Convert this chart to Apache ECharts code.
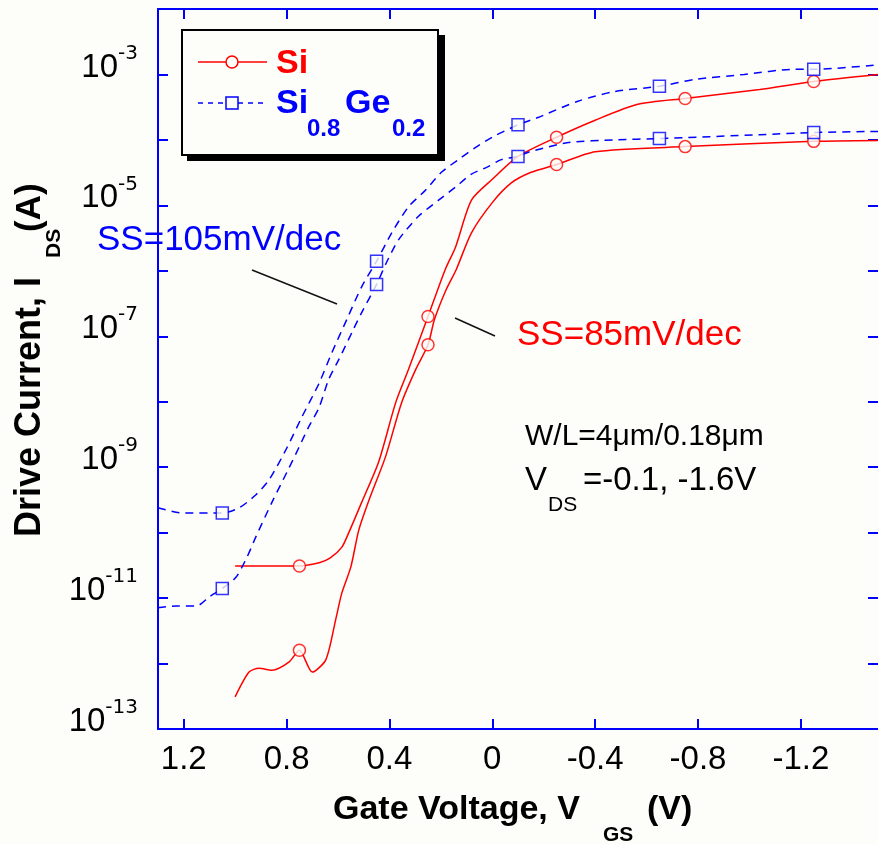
<!DOCTYPE html>
<html>
<head>
<meta charset="utf-8">
<script src="https://cdn.jsdelivr.net/npm/echarts@6/dist/echarts.min.js"></script>
<style>
html,body{margin:0;padding:0;background:#fdfdf9;}
#c{width:878px;height:844px;}
</style>
</head>
<body>
<div id="c"></div>
<script>
// ---- tick values ----
const xTickValues = [1.2, 0.8, 0.4, 0, -0.4, -0.8, -1.2];
const yTickValues = [1e-13, 1e-12, 1e-11, 1e-10, 1e-9, 1e-8, 1e-7, 1e-6, 1e-5, 1e-4, 1e-3, 1e-2];
const yLabelValues = [1e-13, 1e-11, 1e-9, 1e-7, 1e-5, 1e-3];

// ---- Si, VDS = -1.6 V  [VGS, IDS] ----
const siHigh = [
  [1.0, 3.1e-11], [0.75, 3.1e-11], [0.67, 3.5e-11], [0.63, 4.1e-11], [0.585, 6.0e-11],
  [0.558, 1.0e-10], [0.508, 2.9e-10], [0.442, 1.2e-9], [0.376, 9.6e-9], [0.326, 3.1e-8],
  [0.25, 2.0e-7], [0.183, 1.05e-6], [0.143, 2.3e-6], [0.081, 1.2e-5], [0.0, 2.5e-5],
  [-0.10, 5.6e-5], [-0.25, 1.1e-4], [-0.40, 2.0e-4], [-0.566, 3.5e-4], [-0.75, 4.3e-4],
  [-1.04, 5.9e-4], [-1.25, 7.8e-4], [-1.5, 1.0e-3]
];
// ---- Si, VDS = -0.1 V ----
const siLow = [
  [1.0, 3.1e-13], [0.946, 7.4e-13], [0.907, 8.5e-13], [0.857, 7.9e-13], [0.791, 1.05e-12],
  [0.75, 1.6e-12], [0.70, 7.4e-13], [0.647, 1.15e-12], [0.609, 4.7e-12], [0.585, 1.2e-11],
  [0.55, 3.0e-11], [0.519, 1.1e-10], [0.48, 3.1e-10], [0.415, 1.45e-9], [0.353, 9.6e-9],
  [0.298, 3.1e-8], [0.25, 7.4e-8], [0.225, 1.8e-7], [0.18, 5.1e-7], [0.14, 1.05e-6],
  [0.081, 3.8e-6], [0.0, 1.1e-5], [-0.074, 2.2e-5], [-0.151, 3.2e-5], [-0.25, 4.2e-5],
  [-0.40, 6.6e-5], [-0.75, 7.9e-5], [-1.25, 9.5e-5], [-1.5, 9.8e-5]
];
// ---- Si0.8Ge0.2, VDS = -1.6 V ----
const sigeHigh = [
  [1.3, 2.4e-10], [1.205, 2.0e-10], [1.05, 2.0e-10], [0.984, 2.4e-10], [0.919, 3.8e-10],
  [0.868, 6.4e-10], [0.798, 2.0e-9], [0.74, 5.9e-9], [0.674, 1.9e-8], [0.624, 5.6e-8],
  [0.566, 1.8e-7], [0.508, 5.7e-7], [0.45, 1.4e-6], [0.391, 3.8e-6], [0.326, 9.5e-6],
  [0.26, 1.7e-5], [0.198, 3.2e-5], [0.132, 5.0e-5], [0.066, 7.6e-5], [0.0, 1.1e-4],
  [-0.10, 1.7e-4], [-0.178, 2.2e-4], [-0.333, 3.9e-4], [-0.477, 5.5e-4], [-0.65, 6.6e-4],
  [-0.787, 8.4e-4], [-0.98, 1.0e-3], [-1.174, 1.2e-3], [-1.25, 1.2e-3], [-1.5, 1.4e-3]
];
// ---- Si0.8Ge0.2, VDS = -0.1 V ----
const sigeLow = [
  [1.3, 7.1e-12], [1.229, 7.6e-12], [1.15, 7.6e-12], [1.10, 1.05e-11], [1.05, 1.4e-11],
  [0.996, 2.1e-11], [0.953, 4.3e-11], [0.919, 8.7e-11], [0.857, 2.9e-10], [0.798, 8.5e-10],
  [0.752, 2.0e-9], [0.713, 4.2e-9], [0.674, 8.1e-9], [0.636, 2.2e-8], [0.597, 4.4e-8],
  [0.539, 1.3e-7], [0.508, 2.3e-7], [0.45, 6.2e-7], [0.411, 1.35e-6], [0.364, 3.0e-6],
  [0.287, 6.8e-6], [0.209, 1.2e-5], [0.143, 1.9e-5], [0.081, 3.0e-5], [0.016, 3.9e-5],
  [-0.035, 5.0e-5], [-0.10, 5.6e-5], [-0.14, 6.5e-5], [-0.295, 9.1e-5], [-0.477, 1.0e-4],
  [-0.65, 1.05e-4], [-1.04, 1.2e-4], [-1.25, 1.3e-4], [-1.5, 1.35e-4]
];
// ---- marker points ----
const siHighMarks = [[0.75, 3.1e-11], [0.25, 2.0e-7], [-0.25, 1.1e-4], [-0.75, 4.3e-4], [-1.25, 7.8e-4]];
const siLowMarks = [[0.75, 1.6e-12], [0.25, 7.4e-8], [-0.25, 4.2e-5], [-0.75, 7.9e-5], [-1.25, 9.5e-5]];
const sigeHighMarks = [[1.05, 2.0e-10], [0.45, 1.4e-6], [-0.10, 1.7e-4], [-0.65, 6.6e-4], [-1.25, 1.2e-3]];
const sigeLowMarks = [[1.05, 1.4e-11], [0.45, 6.2e-7], [-0.10, 5.6e-5], [-0.65, 1.05e-4], [-1.25, 1.3e-4]];

const BG = '#fdfdf9';
const RED = '#ff0000';
const BLUE = '#0000ff';
const FF = '"Liberation Sans", Arial, sans-serif';

const axisLineStyle = {show: true, onZero: false, lineStyle: {color: BLUE, width: 2}};
const tickStyleX = {show: true, inside: true, length: 10, lineStyle: {color: BLUE, width: 2}, customValues: xTickValues};
const tickStyleY = {show: true, inside: true, length: 10, lineStyle: {color: BLUE, width: 2}, customValues: yTickValues};

function lineSeries(data, color, dashed) {
  return {
    type: 'line', data: data, showSymbol: false, symbol: 'none', z: 2, silent: true, smooth: 0.25,
    lineStyle: {color: color, width: 1.5, type: dashed ? [8, 6] : 'solid'}
  };
}
function markSeries(data, color, sym) {
  return {
    type: 'scatter', data: data, symbol: sym, symbolSize: 12, z: 3, silent: true,
    itemStyle: {color: BG, borderColor: color, borderWidth: 1.5}
  };
}
function txt(text, x, y, font, fill, extra) {
  return Object.assign({
    type: 'text', x: x, y: y, z: 20, silent: true,
    style: {text: text, font: font, fill: fill, textAlign: 'left', textVerticalAlign: 'middle'}
  }, extra || {});
}

const chart = echarts.init(document.getElementById('c'), null, {renderer: 'canvas'});
chart.setOption({
  backgroundColor: BG,
  animation: false,
  grid: {left: 158, top: 9, width: 723, height: 720, show: false},
  xAxis: [
    {
      type: 'value', inverse: true, min: -1.5, max: 1.3, position: 'bottom',
      axisLine: axisLineStyle, axisTick: tickStyleX, splitLine: {show: false},
      axisLabel: {customValues: xTickValues, color: '#000', fontSize: 33, fontFamily: FF, margin: 14,
        formatter: function (v) { return String(v); }}
    },
    {
      type: 'value', inverse: true, min: -1.5, max: 1.3, position: 'top',
      axisLine: axisLineStyle, axisTick: tickStyleX, splitLine: {show: false},
      axisLabel: {show: false}
    }
  ],
  yAxis: [
    {
      type: 'log', logBase: 10, min: 1e-13, max: 1e-2, position: 'left',
      axisLine: axisLineStyle, axisTick: tickStyleY, splitLine: {show: false}, minorTick: {show: false},
      axisLabel: {
        customValues: yLabelValues, margin: 20, color: '#000',
        formatter: function (v) { return '{b|10}{s|' + Math.round(Math.log10(v)) + '}'; },
        rich: {
          b: {fontSize: 33, lineHeight: 33, padding: [8, 0, 22, 0], fontFamily: FF, color: '#000'},
          s: {fontSize: 20, lineHeight: 20, padding: [0, 0, 42, 0], fontFamily: '"DejaVu Sans", sans-serif', color: '#000'}
        }
      }
    },
    {
      type: 'log', logBase: 10, min: 1e-13, max: 1e-2, position: 'right',
      axisLine: {show: false, onZero: false}, axisTick: tickStyleY, splitLine: {show: false}, minorTick: {show: false},
      axisLabel: {show: false}
    }
  ],
  series: [
    lineSeries(siHigh, RED, false),
    lineSeries(siLow, RED, false),
    lineSeries(sigeHigh, BLUE, true),
    lineSeries(sigeLow, BLUE, true),
    markSeries(siHighMarks, RED, 'circle'),
    markSeries(siLowMarks, RED, 'circle'),
    markSeries(sigeHighMarks, BLUE, 'rect'),
    markSeries(sigeLowMarks, BLUE, 'rect')
  ],
  graphic: [
    // legend box
    {type: 'rect', z: 10, silent: true, shape: {x: 187, y: 35, width: 258, height: 126}, style: {fill: '#000'}},
    {type: 'rect', z: 11, silent: true, shape: {x: 182, y: 30, width: 256, height: 125}, style: {fill: BG, stroke: '#000', lineWidth: 2}},
    {type: 'line', z: 12, silent: true, shape: {x1: 198, y1: 62, x2: 267, y2: 62}, style: {stroke: RED, lineWidth: 1.5}},
    {type: 'circle', z: 13, silent: true, shape: {cx: 232, cy: 62, r: 6}, style: {fill: BG, stroke: RED, lineWidth: 1.5}},
    {type: 'line', z: 12, silent: true, shape: {x1: 198, y1: 103, x2: 267, y2: 103}, style: {stroke: BLUE, lineWidth: 1.5, lineDash: [5, 5]}},
    {type: 'rect', z: 13, silent: true, shape: {x: 226, y: 97, width: 12, height: 12}, style: {fill: BG, stroke: BLUE, lineWidth: 1.5}},
    txt('Si', 276, 64, 'bold 34px ' + FF, RED),
    txt('Si', 276, 104, 'bold 34px ' + FF, BLUE),
    txt('0.8', 307, 129, 'bold 24px ' + FF, BLUE),
    txt('Ge', 345, 104, 'bold 34px ' + FF, BLUE),
    txt('0.2', 392, 129, 'bold 24px ' + FF, BLUE),
    // annotations
    txt('SS=105mV/dec', 97, 240, '35px ' + FF, BLUE),
    {type: 'line', z: 12, silent: true, shape: {x1: 252, y1: 270, x2: 337, y2: 304}, style: {stroke: '#111', lineWidth: 1.5}},
    txt('SS=85mV/dec', 517, 335, '35px ' + FF, RED),
    {type: 'line', z: 12, silent: true, shape: {x1: 455, y1: 318, x2: 495, y2: 336}, style: {stroke: '#111', lineWidth: 1.5}},
    txt('W/L=4μm/0.18μm', 525, 437, '30px ' + FF, '#000'),
    txt('V', 525, 481, '33px ' + FF, '#000'),
    txt('DS', 548, 505, '21px ' + FF, '#000'),
    txt('=-0.1, -1.6V', 583, 481, '33px ' + FF, '#000'),
    // x-axis title
    txt('Gate Voltage, V', 333, 810, 'bold 34px ' + FF, '#000'),
    txt('GS', 603, 835, 'bold 21px ' + FF, '#000'),
    txt('(V)', 647, 810, 'bold 34px ' + FF, '#000'),
    // y-axis title (rotated)
    txt('Drive Current, I', 30, 537, 'bold 36px ' + FF, '#000', {rotation: Math.PI / 2}),
    txt('DS', 54, 258, 'bold 21px ' + FF, '#000', {rotation: Math.PI / 2}),
    txt('(A)', 30, 232, 'bold 35px ' + FF, '#000', {rotation: Math.PI / 2})
  ]
});
</script>
</body>
</html>
